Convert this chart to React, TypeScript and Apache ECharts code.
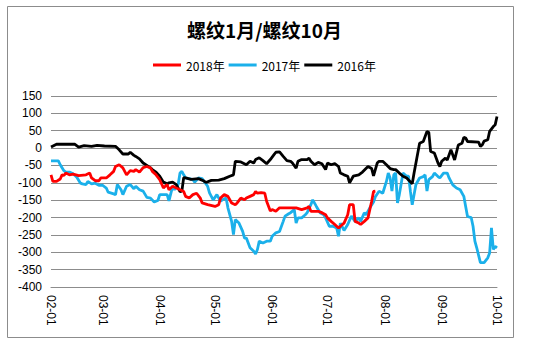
import React, { useEffect, useRef } from "react";
import * as echarts from "echarts";

const titleText = "螺纹1月/螺纹10月";
const seriesNames = ["2018年", "2017年", "2016年"];
const seriesColors = ["#FF0000", "#1BB0EA", "#000000"];

// x = days since 02-01 (calendar days)
const monthTicks = [0, 28, 59, 89, 120, 150, 181, 212, 242];
const monthLabels = ["02-01", "03-01", "04-01", "05-01", "06-01", "07-01", "08-01", "09-01", "10-01"];
const yTicks = [-400, -350, -300, -250, -200, -150, -100, -50, 0, 50, 100, 150];

const days2018 = [0, 1, 3, 5, 6, 7, 8, 10, 12, 15, 19, 21, 22, 24, 26, 27, 30, 32, 34, 35, 37, 39, 41, 43, 45, 46, 48, 50, 52, 54, 55, 57, 59, 61, 63, 64, 66, 68, 70, 72, 73, 75, 77, 79, 81, 82, 85, 89, 91, 92, 94, 96, 98, 100, 101, 103, 105, 106, 108, 110, 111, 112, 114, 116, 117, 119, 120, 122, 124, 127, 130, 133, 136, 139, 140, 141, 145, 147, 149, 150, 152, 154, 156, 157, 159, 161, 162, 164, 165, 167, 168, 170, 172, 174, 175, 176];
const values2018 = [-77, -96, -96, -89, -77, -79, -72, -77, -75, -79, -77, -72, -86, -94, -94, -86, -86, -77, -67, -53, -48, -57, -77, -65, -67, -62, -69, -56, -53, -57, -67, -77, -91, -115, -105, -120, -110, -115, -120, -125, -139, -144, -134, -130, -144, -158, -163, -168, -163, -144, -134, -139, -158, -163, -158, -144, -149, -144, -139, -134, -125, -130, -128, -130, -153, -181, -177, -182, -172, -172, -172, -172, -177, -172, -168, -182, -182, -186, -192, -201, -211, -220, -230, -225, -216, -192, -163, -163, -211, -216, -220, -211, -201, -153, -125, -124];

const days2017 = [0, 4, 5, 7, 8, 10, 12, 14, 16, 17, 19, 20, 22, 24, 26, 28, 30, 31, 34, 35, 36, 38, 39, 41, 43, 45, 46, 48, 50, 52, 54, 56, 58, 59, 62, 63, 64, 66, 67, 69, 70, 71, 72, 73, 75, 77, 78, 80, 82, 83, 85, 86, 88, 90, 92, 93, 95, 96, 98, 99, 100, 102, 104, 105, 106, 108, 110, 111, 112, 113, 115, 117, 119, 120, 122, 124, 126, 127, 129, 130, 132, 133, 134, 136, 138, 139, 141, 142, 144, 146, 148, 149, 151, 153, 155, 156, 157, 159, 161, 163, 165, 167, 168, 170, 171, 173, 175, 176, 178, 180, 182, 183, 184, 185, 186, 187, 188, 189, 191, 193, 194, 195, 196, 198, 200, 202, 203, 204, 205, 207, 208, 210, 211, 213, 215, 216, 218, 220, 222, 224, 225, 226, 228, 229, 230, 231, 233, 235, 237, 238, 239, 240, 241, 242];
const values2017 = [-37, -37, -48, -65, -69, -69, -74, -84, -101, -103, -105, -96, -103, -101, -107, -107, -115, -127, -132, -134, -105, -120, -134, -110, -105, -117, -110, -120, -124, -142, -144, -155, -151, -134, -134, -134, -152, -110, -120, -105, -72, -67, -77, -86, -88, -91, -98, -86, -88, -95, -110, -129, -149, -134, -153, -149, -144, -172, -211, -249, -206, -216, -240, -259, -259, -287, -297, -305, -292, -268, -273, -268, -268, -254, -244, -240, -211, -196, -189, -186, -177, -216, -201, -201, -192, -186, -163, -149, -168, -186, -192, -201, -225, -225, -230, -254, -216, -237, -220, -196, -211, -201, -211, -186, -192, -172, -155, -140, -124, -130, -96, -72, -86, -124, -77, -72, -158, -134, -72, -81, -81, -124, -163, -105, -86, -82, -77, -124, -91, -82, -72, -82, -86, -72, -72, -86, -106, -115, -120, -139, -168, -197, -200, -225, -268, -287, -330, -330, -316, -302, -230, -292, -283, -287];

const days2016 = [0, 3, 13, 15, 18, 22, 25, 29, 35, 37, 39, 42, 43, 45, 46, 48, 50, 52, 54, 55, 57, 59, 61, 63, 64, 66, 68, 70, 71, 72, 73, 76, 80, 83, 84, 87, 91, 94, 97, 99, 100, 103, 106, 108, 110, 111, 113, 115, 117, 119, 121, 122, 124, 126, 128, 130, 131, 133, 134, 136, 139, 140, 141, 143, 145, 147, 149, 150, 152, 154, 156, 157, 159, 161, 162, 164, 167, 169, 172, 174, 175, 177, 178, 180, 182, 184, 186, 187, 189, 191, 193, 196, 197, 200, 202, 204, 205, 206, 208, 210, 211, 212, 214, 215, 217, 219, 221, 223, 224, 225, 226, 232, 233, 234, 235, 237, 238, 240, 241, 242];
const values2016 = [3, 11, 11, 3, 7, 5, 8, 6, 5, -5, -17, -17, -12, -21, -24, -31, -43, -50, -57, -62, -69, -81, -98, -103, -100, -98, -105, -125, -124, -85, -86, -90, -88, -95, -99, -93, -92, -88, -81, -77, -38, -40, -48, -38, -43, -33, -28, -36, -45, -33, -19, -12, -11, -24, -36, -38, -43, -58, -38, -33, -33, -29, -38, -48, -41, -45, -62, -43, -48, -45, -53, -72, -77, -81, -100, -81, -77, -69, -53, -59, -80, -43, -38, -38, -48, -59, -62, -62, -72, -81, -86, -103, -72, 14, 19, 48, 45, -10, -14, -43, -53, -38, -29, -34, -5, -34, 9, 14, 31, 29, 19, 17, 5, 9, 20, 24, 48, 62, 67, 91];

const seriesDays = [days2018, days2017, days2016];
const seriesValues = [values2018, values2017, values2016];

export default function App() {
  const ref = useRef<HTMLDivElement>(null);
  useEffect(() => {
    if (!ref.current) return;
    const chart = echarts.init(ref.current, undefined, { renderer: "svg" });
    const font = "'Noto Sans CJK SC', 'Noto Sans', sans-serif";
    chart.setOption({
      animation: false,
      backgroundColor: "#ffffff",
      title: {
        text: titleText,
        left: 182,
        top: 15,
        textStyle: { fontSize: 19, fontWeight: "bold", color: "#000", fontFamily: font },
      },
      legend: {
        top: 54,
        left: 148,
        icon: "rect",
        itemWidth: 28,
        itemHeight: 3,
        itemGap: 4,
        textStyle: { fontSize: 12, color: "#000", fontFamily: font },
        data: seriesNames,
      },
      grid: { left: 51, right: 48, top: 96, bottom: 61, containLabel: false },
      xAxis: {
        type: "value",
        min: 0,
        max: 242,
        splitLine: { show: false },
        axisTick: { show: false },
        axisLine: { show: true, onZero: false, lineStyle: { color: "#8c8c8c", width: 1 } },
        axisLabel: {
          customValues: monthTicks,
          rotate: -90,
          margin: 8,
          fontSize: 12,
          color: "#000",
          fontFamily: "'Liberation Sans', sans-serif",
          formatter: (v: number) => {
            const i = monthTicks.indexOf(Math.round(v));
            return i >= 0 ? monthLabels[i] : "";
          },
        },
      },
      yAxis: {
        type: "value",
        min: yTicks[0],
        max: yTicks[yTicks.length - 1],
        interval: 50,
        axisLine: { show: false },
        axisTick: { show: false },
        splitLine: { show: true, lineStyle: { color: "#8c8c8c", width: 1 } },
        axisLabel: { fontSize: 12, color: "#000", margin: 9, fontFamily: "'Liberation Sans', sans-serif" },
      },
      graphic: [
        {
          type: "rect",
          shape: { x: 7.5, y: 6.5, width: 506, height: 331 },
          style: { fill: "none", stroke: "#8c8c8c", lineWidth: 1 },
          silent: true,
        },
      ],
      series: seriesNames.map((name, s) => ({
        name,
        type: "line",
        showSymbol: false,
        symbol: "none",
        color: seriesColors[s],
        lineStyle: { width: 2.8, color: seriesColors[s] },
        z: s === 2 ? 3 : s === 0 ? 4 : 2,
        data: seriesDays[s].map((d, i) => [d, seriesValues[s][i]]),
      })),
    });
    return () => chart.dispose();
  }, []);
  return (
    <div
      ref={ref}
      style={{ position: "fixed", left: 0, top: 0, width: 545, height: 348, background: "#fff" }}
    />
  );
}
